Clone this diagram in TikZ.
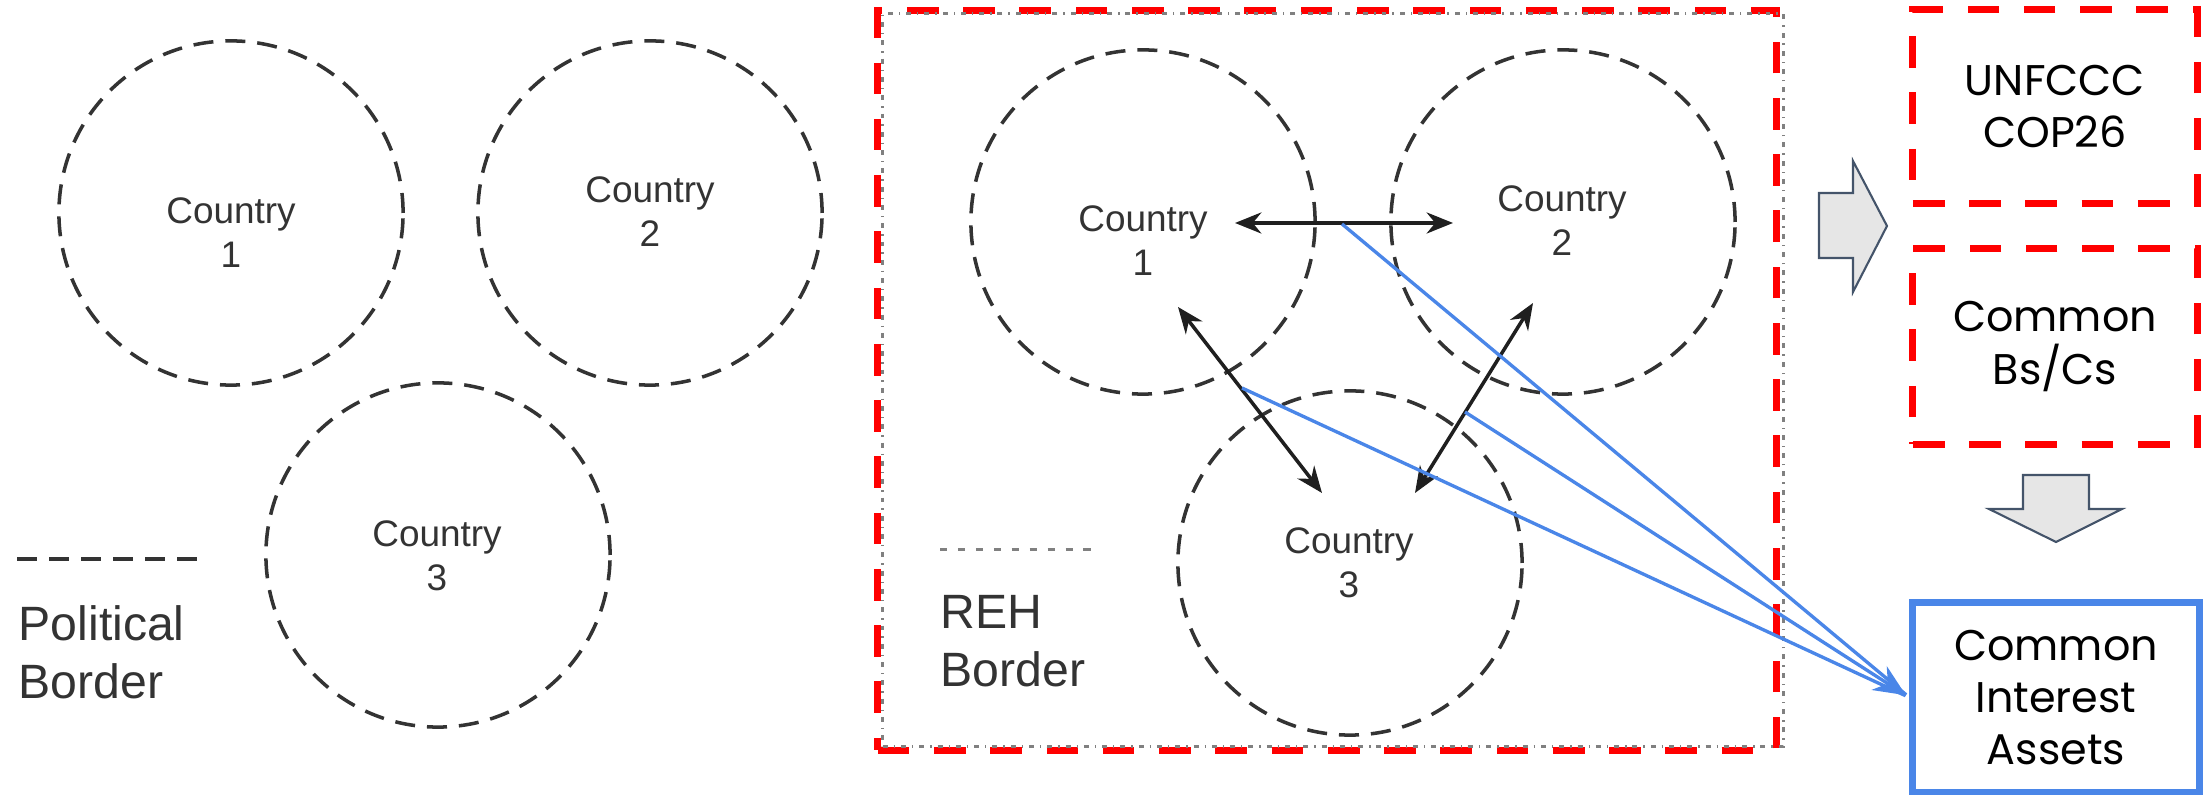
\documentclass[tikz,border=0pt]{standalone}
\usepackage{fontspec}
\setmainfont{Liberation Sans}
\newfontfamily\popfont{Poppins}
\usetikzlibrary{arrows.meta}
\definecolor{redd}{HTML}{FF0000}
\definecolor{blu}{HTML}{4A86E8}
\definecolor{slate}{HTML}{44546A}
\definecolor{arrfill}{HTML}{E6E6E6}
\definecolor{inkgray}{HTML}{333333}
\begin{document}
\begin{tikzpicture}[x=0.01cm,y=-0.01cm,
  border/.style={circle, draw=inkgray, line width=1pt, dash pattern=on 5.7pt off 3.4pt, minimum size=3.44cm, inner sep=0pt},
  clabel/.style={text=inkgray, font=\fontsize{10.5}{12.5}\selectfont, align=center, inner sep=0pt},
  legendtext/.style={text=inkgray, font=\fontsize{13.7}{16.6}\selectfont, align=left, inner sep=0pt, anchor=west},
  redbox/.style={draw=redd, line width=2pt, dash pattern=on 9pt off 7pt, inner sep=0pt},
  rtext/.style={font=\popfont\fontsize{12.2}{14.8}\selectfont, align=center},
  blockarrow/.style={fill=arrfill, draw=slate, line width=0.6pt, line join=miter},
  link/.style={draw=black!88, line width=1pt, {Stealth[length=7.5pt,width=6pt]}-{Stealth[length=7.5pt,width=6pt]}},
  bluelink/.style={draw=blu, line width=0.95pt, shorten >=1.2pt}
]
\useasboundingbox (0,0) rectangle (2208,795);

% ---------- left panel ----------
\node[border] (l1) at (231,213) {};
\node[border] (l2) at (650,213) {};
\node[border] (l3) at (438,555) {};
\node[clabel] (l1t) at (231,233) {Country\\1};
\node[clabel] (l2t) at (650,212) {Country\\2};
\node[clabel] (l3t) at (437,556) {Country\\3};
\coordinate (pl1) at (17,559);
\coordinate (pl2) at (198,559);
\draw[draw=inkgray, line width=1.1pt, dash pattern=on 5.7pt off 3.4pt] (pl1) -- (pl2);
\node[legendtext] (pol) at (18,652) {Political\\Border};

% ---------- middle panel ----------
\node[redbox, minimum width=8.98cm, minimum height=7.39cm] (reh) at (1327,380.5) {};
\node[draw=gray, line width=0.85pt, dash pattern=on 1.4pt off 1.7pt on 0.4pt off 1.7pt, minimum width=9.0cm, minimum height=7.32cm, inner sep=0pt] (rehg) at (1333,380) {};
\node[border] (m1) at (1143,222) {};
\node[border] (m2) at (1563,222) {};
\node[border] (m3) at (1350,563) {};
\node[clabel] (m1t) at (1143,241) {Country\\1};
\node[clabel] (m2t) at (1562,221) {Country\\2};
\node[clabel] (m3t) at (1349,563) {Country\\3};
\coordinate (rl1) at (940,550);
\coordinate (rl2) at (1093,550);
\draw[draw=gray, line width=0.85pt, dash pattern=on 2pt off 3.1pt] (rl1) -- (rl2);
\node[legendtext] (rehl) at (940,641) {REH\\Border};

\coordinate (h1) at (1235,223);
\coordinate (h2) at (1453,223);
\coordinate (a1) at (1178,307);
\coordinate (a2) at (1322,493);
\coordinate (b1) at (1533,303);
\coordinate (b2) at (1415,493);
\draw[link] (h1) -- (h2);
\draw[link] (a1) -- (a2);
\draw[link] (b2) -- (b1);

% ---------- right panel ----------
\node[redbox, minimum width=2.84cm, minimum height=1.93cm, rtext] (unf) at (2055,106.5) {UNFCCC\\COP26};
\node[redbox, minimum width=2.84cm, minimum height=1.95cm, rtext] (bsc) at (2055,346.5) {Common\\Bs/Cs};
\node[draw=blu, line width=2pt, inner sep=0pt, minimum width=2.86cm, minimum height=1.89cm, rtext] (cia) at (2056,697.5) {Common\\Interest\\Assets};

\draw[blockarrow] (1819,193) -- (1853,193) -- (1853,161) -- (1887,226) -- (1853,292) -- (1853,258) -- (1819,258) -- cycle;
\draw[blockarrow] (2023,475) -- (2089,475) -- (2089,509) -- (2122,509) -- (2056,542) -- (1989,509) -- (2023,509) -- cycle;

% ---------- blue connectors ----------
\coordinate (s1) at (1342,224);
\coordinate (s2) at (1242,388);
\coordinate (s3) at (1465,412);
\draw[bluelink] (s1) -- (cia.west);
\draw[bluelink] (s2) -- (cia.west);
\draw[bluelink, -{Stealth[length=9pt,width=8pt]}] (s3) -- (cia.west);
\end{tikzpicture}
\end{document}
